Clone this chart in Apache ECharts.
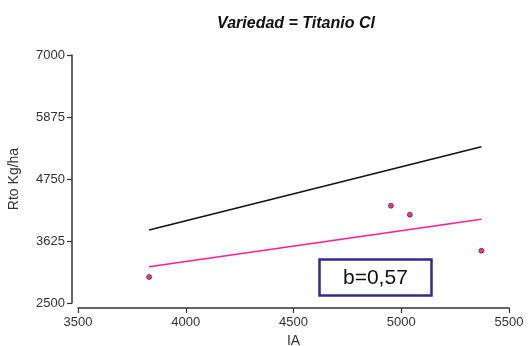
<!DOCTYPE html>
<html>
<head>
<meta charset="utf-8">
<style>
  html, body { margin: 0; padding: 0; background: #fff; }
  #chart { width: 528px; height: 346px; }
</style>
<script src="https://cdn.jsdelivr.net/npm/echarts@6/dist/echarts.min.js"></script>
</head>
<body>
<div id="chart"></div>
<script>
// observed points (IA, Rto Kg/ha)
const pointsIA = [3830, 4952, 5040, 5372];
const pointsRto = [2972, 4266, 4102, 3449];

// fitted lines, from the first to the last IA value
const lineIA = [3830, 5372];
const blackLineRto = [3825, 5336];
const pinkLineRto = [3159, 4019];

const yTicks = [2500, 3625, 4750, 5875, 7000];
const slopeText = 'b=0,57';

const pair = (xs, ys) => xs.map((x, i) => [x, ys[i]]);

const myChart = echarts.init(document.getElementById('chart'));

const axisColor = '#333';

myChart.setOption({
  animation: false,
  title: [
    {
      text: 'Variedad = Titanio Cl',
      left: 291,
      top: 11,
      textAlign: 'center',
      textStyle: {
        fontFamily: 'Liberation Sans',
        fontSize: 16,
        fontWeight: 'bold',
        fontStyle: 'italic',
        color: '#111',
      },
    },
    {
      // slope annotation
      text: slopeText,
      left: 319,
      top: 259,
      padding: [8, 24, 7, 24],
      borderColor: '#2e2e86',
      borderWidth: 2.5,
      textStyle: {
        fontFamily: 'Liberation Sans',
        fontSize: 21,
        fontWeight: 'normal',
        color: '#111',
        lineHeight: 22,
      },
    },
  ],
  grid: {
    left: 78,
    right: 19,
    top: 55,
    bottom: 43,
    outerBoundsMode: 'none',
    containLabel: false,
  },
  xAxis: {
    type: 'value',
    min: 3500,
    max: 5500,
    interval: 500,
    offset: 5,
    name: 'IA',
    nameLocation: 'middle',
    nameGap: 26,
    nameTextStyle: { fontFamily: 'Liberation Sans', fontSize: 14, color: '#333' },
    axisLine: { lineStyle: { color: axisColor, width: 1.5 } },
    axisTick: { length: 5, lineStyle: { color: axisColor, width: 1.2 } },
    axisLabel: {
      fontFamily: 'Liberation Sans', fontSize: 13, color: '#333', margin: 8,
      formatter: (v) => String(v),
    },
    splitLine: { show: false },
  },
  yAxis: {
    type: 'value',
    min: 2500,
    max: 7000,
    offset: 6,
    name: 'Rto Kg/ha',
    nameLocation: 'middle',
    nameGap: 51,
    nameTextStyle: { fontFamily: 'Liberation Sans', fontSize: 14, color: '#333' },
    axisLine: { show: true, lineStyle: { color: axisColor, width: 1.5 } },
    axisTick: { show: true, length: 5, customValues: yTicks, lineStyle: { color: axisColor, width: 1.2 } },
    axisLabel: {
      fontFamily: 'Liberation Sans', fontSize: 13, color: '#333', margin: 7,
      customValues: yTicks,
      formatter: (v) => String(v),
    },
    splitLine: { show: false },
  },
  series: [
    {
      name: 'black',
      type: 'line',
      data: pair(lineIA, blackLineRto),
      symbol: 'none',
      lineStyle: { color: '#111', width: 1.5 },
    },
    {
      name: 'pink',
      type: 'line',
      data: pair(lineIA, pinkLineRto),
      symbol: 'none',
      lineStyle: { color: '#ff1f8e', width: 1.5 },
    },
    {
      name: 'obs',
      type: 'scatter',
      data: pair(pointsIA, pointsRto),
      symbol: 'circle',
      symbolSize: 5,
      itemStyle: { color: '#d0106a', borderColor: '#5e0c36', borderWidth: 0.8 },
    },
  ],
});
</script>
</body>
</html>
